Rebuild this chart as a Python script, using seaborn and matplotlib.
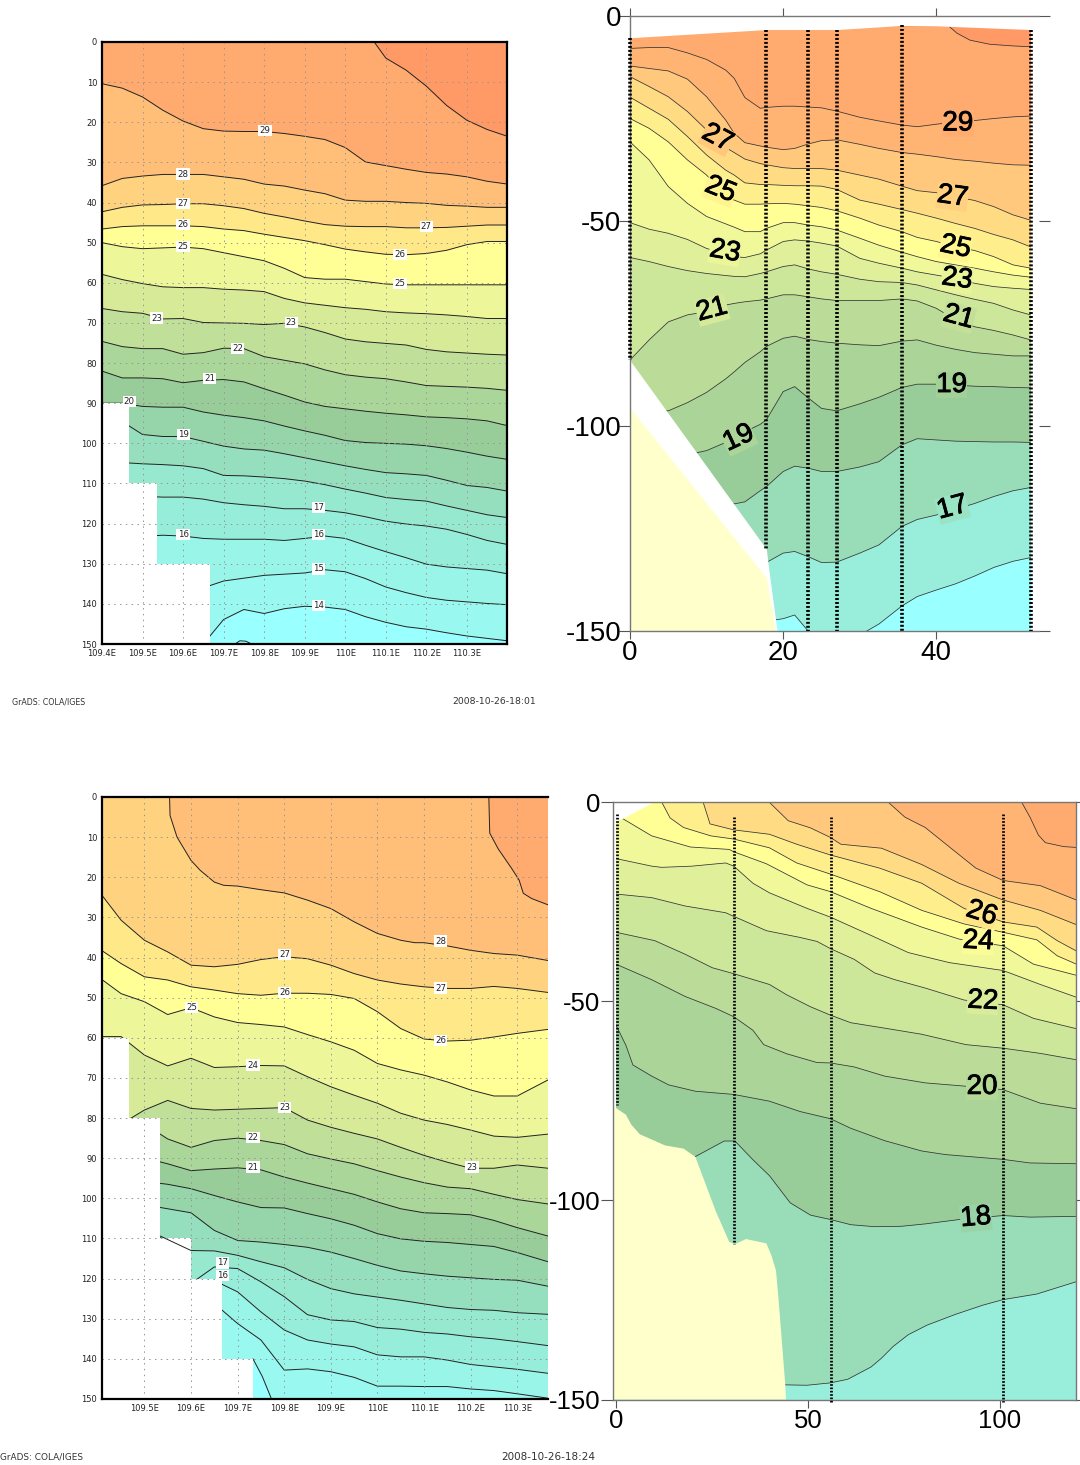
import numpy as np
import matplotlib
matplotlib.use("Agg")
import matplotlib.pyplot as plt
import matplotlib.patheffects as pe
import seaborn as sns

W, H = 1080, 1465

# ---------- panel 1 : longitude / depth section ----------
p1_lon = [109.4,109.45,109.5,109.55,109.6,109.65,109.7,109.75,109.8,109.85,109.9,109.95,110,110.05,110.1,110.15,110.2,110.25,110.3,110.35,110.4]
p1_t30 = [-40,-40,-40,-40,-40,-40,-40,-40,-40,-40,-40,-40,-22,-3,4,7,11,15.8,19.5,21.8,23.5]
p1_t29 = [10.4,11.5,13.7,17,19.7,21.6,22.2,22.3,22.3,22.8,23.5,24.3,26.3,29.9,30.8,31.7,32.5,32.9,33.6,34.7,35.4]
p1_t28 = [35.8,34,33.4,33,33,33,33.6,34.2,35.4,35.9,36.9,37.8,39.4,39.7,39.7,40,40.2,40.7,40.9,41.2,41.2]
p1_t27 = [42.3,41.2,40.6,40.5,40.3,40.3,40.8,41.5,42.7,43.6,44.6,45.5,45.9,46,46,46.3,46.3,46.2,45.9,45.6,45.6]
p1_t26 = [46.6,46,45.8,45.8,45.8,46,46.6,47,47.9,48.7,49.5,50.5,51.6,52.3,52.9,53,52.7,51.9,50.5,49.7,49.7]
p1_t25 = [50,51,51.5,51.3,51.1,51.5,52.5,53.5,54.5,56.4,58.7,59.1,59.1,59.7,60.3,60.5,60.5,60.5,60.5,60.5,60.5]
p1_t24 = [57.9,59.2,60.2,61,61.2,61.2,61.6,61.8,62.2,63.9,65,65.6,66.2,66.6,67.2,67.5,67.7,68,68.4,68.9,68.9]
p1_t23 = [66.4,67.2,67.6,69,68.9,69.9,70,70.1,70.4,70.1,71,72.4,74,74.7,75.1,75.5,76.6,77.2,77.5,77.8,78]
p1_t22 = [74.6,75.9,76.4,76.4,77.8,77.4,76.3,76.4,78.4,79.3,80.2,81.7,82.9,83.5,83.9,84.7,85.6,85.8,86,86.3,86.8]
p1_t21 = [82,83.7,83.7,83.9,84.9,84.3,84.1,84.7,86.4,88,89.7,90.8,91.4,92,92.5,92.9,93.4,93.6,93.9,94.4,95.6]
p1_t20 = [90,90,90.8,91,91,92.2,93,93.6,94.4,95.7,96.9,98,99.3,99.8,100,100.2,100.6,101.3,102.2,103.2,104]
p1_t19 = [94.6,94.6,97.8,98.3,98.3,99.5,100.7,101.4,101.7,102.6,103.6,104.6,105.6,106.5,107.3,107.6,108,109.2,110.5,111,111.9]
p1_t18 = [104.8,104.8,105.1,105.3,105.6,106.3,108,108.1,108.4,108.8,109.4,110.3,111.4,112.4,113.5,114,114.4,115.6,116.7,117.8,118.5]
p1_t17 = [113.2,113.2,113.2,113.4,113.4,113.9,114.8,115.3,115.7,116.3,116.3,116.7,117.3,118.3,119.4,120.1,120.6,121.4,122.7,124.2,125.2]
p1_t16 = [123.2,123.2,123.2,122.9,123.1,123.7,123.9,123.9,123.9,124.2,123.7,123.1,123.7,125.4,127,128.5,130.1,130.8,131.2,131.6,132.5]
p1_t15 = [136,136,136,136,136,136,134.3,133.6,132.9,132.6,132.3,131.5,132,133.7,135.8,137.2,138.4,139.1,139.5,139.9,140.2]
p1_t14 = [150,150,150,150,150,150,143.9,141.4,142.4,141.2,140.6,140.8,141.4,143.2,144.6,145.7,146.3,147.2,148,148.6,149.2]
p1_lobe_lon = [109.728,109.74,109.755,109.769]
p1_lobe_dep = [150,149.2,149.3,150]
p1_mask_dep = [90,110,130,150]
p1_mask_lon = [109.467,109.535,109.666,109.666]
p1_colors = ["#FF9966","#FFAA6E","#FFBF78","#FFD280","#FFE888","#FFFF96","#EEF69A","#D6EA98","#C0E09A","#AAD69A","#98CC98","#96D4AA","#96DFBE","#96E8CE","#96EEDA","#99F5E8","#99F8F0","#99FFFF"]
p1_lab_lon = [109.802,109.6,109.6,109.6,109.6,110.2,110.135,110.135,109.535,109.867,109.734,109.666,109.467,109.6,109.934,109.6,109.934,109.934,109.934]
p1_lab_dep = [22,32.9,40.3,45.4,50.9,46,52.9,60.2,68.8,69.8,76.3,83.9,89.5,97.8,115.9,122.8,122.8,131.3,140.5]
p1_lab_txt = ["29","28","27","26","25","27","26","25","23","23","22","21","20","19","17","16","16","15","14"]
p1_xticks = [109.4,109.5,109.6,109.7,109.8,109.9,110.0,110.1,110.2,110.3]
p1_xlabels = ["109.4E","109.5E","109.6E","109.7E","109.8E","109.9E","110E","110.1E","110.2E","110.3E"]
depth_ticks = [0,10,20,30,40,50,60,70,80,90,100,110,120,130,140,150]

# ---------- panel 2 : distance / depth section ----------
p2_km = [0,2.5,5,7.5,10,12.5,13.6,15,17,17.8,20,21.5,23.3,25,27,30,32.5,35.5,37.5,40,42.5,45,47.5,50,52.3]
p2_t30_km = [41.7,42.7,44.4,47,50,52.3]
p2_t30 = [2.6,4.2,5.9,6.9,7.3,7.5]
p2_t29 = [7.9,7.7,7.7,9,10.6,13.2,15.2,19.9,22.5,22.3,22,22,22.2,22.4,23.2,24.7,25.6,26.6,27,26.4,25.8,25.5,25,24.6,24.4]
p2_t28 = [12.2,12.8,13.4,15.4,19.7,25.4,28.6,30.9,31.7,32,32.6,32.3,31.2,30.4,30.2,31.3,32.3,33.3,33.7,34.3,35,35.4,35.9,36.3,36.4]
p2_t27 = [14.8,17.2,19.7,23.3,27.8,32.1,33.3,34.9,36,36.3,37,37.2,37.2,37.2,37.6,38.8,39.8,41.5,42.6,43.1,44.1,45,46.5,48.5,49.8]
p2_t26 = [19.8,22.5,25.2,29.4,33.9,37.6,38.8,40.7,41.1,41.1,41.3,41.4,41.4,41.5,42.3,44.9,45.9,47.2,48.1,49.3,50.6,51.8,53.3,54.6,56.3]
p2_t25 = [25,27.4,30.7,35.1,38.8,44,44.9,45.9,45.9,45.8,45.7,45.9,46.3,46.7,47.5,49.3,51,52.6,54,55,56.3,57.2,58.7,60.7,61.5]
p2_t24 = [30.7,35.1,41.6,45.7,48.9,50.7,51.5,52.6,52.6,51.8,50.4,50.4,51,51.4,52.2,54.2,55.9,57.6,58.7,59.9,60.7,61.5,62.4,63.2,63.7]
p2_t23 = [50.4,52,53,54.5,56.7,58,58.7,58.9,58,57.1,55,54.6,54.9,55.4,56.1,59.1,60.3,61.5,62.4,63.2,64,65.2,66,66.4,66.7]
p2_t22 = [58.9,59.9,61.1,62.1,62.8,63.3,63.5,63.6,62.8,62.4,61.1,60.7,61.7,62.4,63,64.2,64.8,65,65.6,66.8,68,69.1,70.1,71.7,72.9]
p2_t21 = [83.9,79,74.6,72.9,72.1,70.5,70.1,69.7,69.3,69,68,68,68.5,69,69.4,69.4,69.4,69,69.5,71.3,74.1,75.8,76.7,77.8,79]
p2_t20 = [96,96.3,96.3,94.3,91.8,88.5,86.8,84.5,81.9,80.6,78.6,78.1,78.9,79.4,79.8,80.2,80.4,79.3,79,80.3,81.3,82.1,82.5,82.9,82.9]
p2_t19 = [107,107,107,107,106,104,102.8,101.4,99.6,98.5,91.6,90.4,93.2,95.7,96.3,94.6,93,90.6,89.8,89.8,90,90.3,90.4,90.6,90.7]
p2_t18 = [119,119,119,119,119,119,119,118.5,115.8,114.8,111.1,109.8,110.3,111.1,111.1,110,108.7,104.6,103.1,103.4,103.7,103.8,103.9,103.9,104]
p2_t17 = [133.3,133.3,133.3,133.3,133.3,133.3,133.3,133.3,133.3,133.3,131,130.6,131.9,133.3,133.2,131,129,124.5,122.8,121.7,120.3,118.9,117.2,115.8,115]
p2_t16 = [147.6,147.6,147.6,147.6,147.6,147.6,147.6,147.6,147.6,147.6,147,146.1,150.1,155,155,151,148.3,143.9,141.6,140,138.5,136.6,134.5,133,132.1]
p2_colors = ["#FF9966","#FFAA6E","#FFB474","#FFC87C","#FFDC84","#FFEE8C","#FFFF96","#F0F89A","#E0F09A","#CCE69A","#BADC98","#AAD498","#98CC98","#98DDB8","#98EEDA","#99FFFF"]
p2_surf_km = [0,17.8,27,35.5,40,52.3,53.4]
p2_surf_dep = [5.3,3.3,3.3,2.3,2.4,3.3,3.3]
p2_edge_km = [0,17.8,18.05,19.2]
p2_edge_dep = [84,130,134,150]
p2_land_km = [0,17.8,19]
p2_land_dep = [95.6,137,150]
p2_st_km = [0,17.8,23.3,27,35.5,52.3]
p2_st_top = [5.3,3.3,3.3,3.3,2.3,3.3]
p2_st_bot = [84,130,150,150,150,150]
p2_lab_km = [11.4,11.8,12.4,10.7,42.8,42.1,42.5,42.7,42.9,14.2,42,42.1]
p2_lab_dep = [29.8,42.4,57.5,71.7,26.2,44.1,56.4,64.2,73.5,103,90,120]
p2_lab_txt = ["27","25","23","21","29","27","25","23","21","19","19","17"]
p2_lab_rot = [-28,-22,-10,15,0,-8,-12,-8,-15,25,0,15]
p2_lab_col = ["#FFC87C","#FFF490","#ECF59A","#D4EA9A","#FFAE70","#FFD080","#FFF690","#E8F49A","#C4E098","#AAD498","#A2D096","#98E4C4"]

# ---------- panel 3 : longitude / depth section ----------
p3_lon = [109.409,109.45,109.5,109.55,109.6,109.65,109.7,109.75,109.8,109.85,109.9,109.95,110,110.05,110.1,110.15,110.2,110.25,110.3,110.366]
p3_t29_lon = [110.239,110.241,110.259,110.288,110.304,110.313,110.331,110.369]
p3_t29 = [0,9,12.9,17.8,20.7,24,25.3,27]
p3_t28_lon = [109.554,109.555,109.57,109.6,109.62,109.65,109.67,109.7,109.75,109.8,109.85,109.9,109.95,110,110.05,110.08,110.1,110.15,110.2,110.25,110.3,110.369]
p3_t28 = [0,4.6,10,15.8,18.3,21.2,22,22.2,23.1,23.9,25.7,27.8,31.1,34,35.7,36.3,36.3,37.1,38.2,39,39.4,40.8]
p3_t27 = [24.5,30.7,35.7,38.6,41.9,42.3,41.7,40.5,39.8,40.3,41.9,44,45.6,46.6,47.3,47.7,47.7,47.2,47.7,48.7]
p3_t26 = [38.3,41.5,44.8,45.6,47.3,48.1,49,49.4,48.9,48.9,49.2,50.2,53.5,57.7,60.3,60.8,60.6,59.8,58.9,57.9]
p3_t25 = [45.5,49,51,54.2,52.5,54.8,56.2,56.7,57.3,59.2,61,63.1,66.4,68,69.3,71,73,74.5,74.5,70.5]
p3_t24 = [59.7,59.7,64.3,67,65.1,67.4,67.2,66.9,67,69.7,72.2,74.3,76.3,78.8,80.5,81.6,83,84.5,84.8,84]
p3_t23 = [81.5,81.5,78,75.6,77.6,78,77.8,77.6,77.4,80.5,82.3,83.8,85.2,87.3,89.3,91,92.5,92.5,91.7,92.5]
p3_t22 = [81.5,81.5,81.5,85.2,87.3,85.6,85,85.6,86.6,88.9,90.2,91.4,93.1,94.7,96.1,97.2,97.6,99,100.3,101.4]
p3_t21 = [89.9,89.9,89.9,91.4,93.1,92.7,92.4,92.9,94.7,96.2,97.6,99,100.9,102.6,103.6,103.8,104.1,105.5,107.3,109.4]
p3_t20 = [95.8,95.8,95.8,96.5,97.6,99.3,100.9,102.3,102.4,103.8,105.1,106.7,108.8,110.1,110.7,111,111.5,112,113.5,115.8]
p3_t19 = [101.6,101.6,101.6,102.6,103.6,108,110.5,110.9,111.5,112.2,113.4,115,116.7,118.1,118.8,119.4,119.8,120.2,120.4,121.9]
p3_t18 = [108.8,108.8,108.8,110.3,113,113.1,114.2,115.8,117.3,120.2,122.5,123.8,124.6,125.4,126.3,127.2,127.7,127.9,128.5,128.9]
p3_t17 = [121.2,121.2,121.2,121.2,121.2,117.1,117.5,120.8,124.5,129,130.3,130.7,132.2,132.6,133.4,133.8,134.5,135,135.7,136.7]
p3_t16 = [124,124,124,124,124,120.5,123.3,128.3,132.8,135.3,136.3,137,139,139.5,139.5,140.3,141.4,142,142.6,143.6]
p3_t15 = [128,128,128,128,128,126.2,131.2,135.3,142.8,142.5,143.2,144.6,146.8,146.8,146.9,146.9,147.5,147.9,148.7,149.8]
p3_t14_lon = [109.733,109.753,109.772,109.78]
p3_t14 = [140,144.4,149.8,160]
p3_ledge_lon = [109.534,109.567,109.6]
p3_ledge_dep = [109.4,111.2,113]
p3_colors = ["#FFAA6E","#FFBF78","#FFD280","#FFE888","#FFFF96","#EEF69A","#D6EA98","#C0E09A","#AAD69A","#98CC98","#96D4AA","#96DFBE","#96E8CE","#96EEDA","#99F5E8","#99F8F0","#99FFFF"]
p3_mask_dep = [60,80,110,120,140,150]
p3_mask_lon = [109.467,109.534,109.6,109.666,109.733,109.733]
p3_lab_lon = [109.801,110.136,109.801,110.136,110.136,109.601,109.733,109.801,109.733,109.733,110.203,109.668,109.668]
p3_lab_dep = [39.2,35.9,48.7,47.6,60.6,52.5,66.8,77.4,84.8,92.2,92.2,116.1,119.2]
p3_lab_txt = ["27","28","26","27","26","25","24","23","22","21","23","17","16"]
p3_xticks = [109.5,109.6,109.7,109.8,109.9,110.0,110.1,110.2,110.3]
p3_xlabels = ["109.5E","109.6E","109.7E","109.8E","109.9E","110E","110.1E","110.2E","110.3E"]

# ---------- panel 4 : distance / depth section ----------
p4_t29_km = [105.7,107.9,110.1,111.9,116.7,120]
p4_t29 = [0,3.8,8.3,10.2,11.2,11.4]
p4_t28_km = [70.9,75.3,80.6,87.7,93.8,100.9,110.6,120]
p4_t28 = [0,3.8,6.4,11.9,16.6,19.7,21,24.6]
p4_t27_km = [39.9,44.9,50.7,55.9,58.6,69.2,79.7,89.4,100.9,110.6,120]
p4_t27 = [0,4.7,6.5,8.9,10.6,11.6,15.7,20.4,24.6,27.2,30.8]
p4_t26_km = [22.7,24.5,30.7,40,47.1,55.9,68.7,79.7,90.7,100.9,109.7,115,120]
p4_t26 = [0,5.5,7,8.1,10.6,13.3,16.6,20.4,26.7,30.1,31.4,34.8,37.4]
p4_t25_km = [11.9,14.1,17.6,24.7,30.7,40,47.1,55.9,68.7,79.7,90.7,100.9,109.7,115,120]
p4_t25 = [0,4,6.4,8.5,9.3,11.5,15.3,18.1,22.5,27.2,30.6,32.7,34.6,38.6,40.7]
p4_t24_km = [1.8,9.3,19.4,29.5,30.7,39.2,49.8,55.9,66.5,79.7,89.4,100.9,108.8,120]
p4_t24 = [4.2,8.5,11.3,11.9,12.5,15.5,20.8,22.5,26.7,31.4,34.4,36.1,40.7,43.5]
p4_t23_km = [0,9.3,11.9,19.8,28.6,30.7,35.7,40,49.8,55.9,66.5,76.2,86.8,100.9,110.6,120]
p4_t23 = [14.2,16.1,16.4,16.1,15.3,16.1,20.4,22.8,26.7,28.9,33.5,37.8,40.3,42.3,45.8,49]
p4_t22_km = [0,9.3,18,28.6,30.7,39.2,48,52.4,55.9,62.1,67.4,72.7,80.6,90.7,100.9,108.8,120]
p4_t22 = [23.1,24,26.1,27.8,28.7,32.3,34,35,36.8,39.5,42.9,44.6,46.7,49.7,50.9,54.3,56.9]
p4_t21_km = [0,10.1,18,25.1,30.7,40,44.5,50.7,55.9,61.2,70.9,79.7,91.2,100.9,110.6,120]
p4_t21 = [32.7,34.8,38.2,41.6,43.1,45.8,48.4,51.4,53.5,55.4,56.9,58.3,60.9,61.8,63.1,64.7]
p4_t20_km = [0,9.3,18,26,30.7,35.7,38.5,44.5,52.4,55.9,62.1,70,80.6,90.7,100.9,110.6,120]
p4_t20 = [40.7,44.6,48.8,51.8,53.9,57.3,60.9,63.2,65.4,65.5,66.5,68.8,70.5,71.3,72.2,75.6,77]
p4_t19_km = [0,2.6,4.4,9.3,13.7,20.7,30.7,40,48,55.9,61.2,70,79.7,85.9,100.9,107.9,120]
p4_t19 = [56,61.1,66,68.8,71,72.6,73.4,75.1,77.7,79.5,81.9,85,87.6,88.5,89.7,90.6,90.8]
p4_t18_km = [20.7,28.2,31,35.7,40,45.4,50.7,55.9,61.2,67.4,74.4,80.6,90.3,100.9,107.9,120]
p4_t18 = [89,85.1,85.1,89.8,93.8,100.6,103.7,104.8,106.1,106.6,106.5,105.9,104.7,103.8,104.2,104]
p4_t17_km = [44.1,49.8,55.9,60.4,66.5,69.2,72.2,76.2,81.1,88.5,95.6,100.9,109.7,120]
p4_t17 = [146.3,146.4,145.8,144.9,141.8,139.6,136.7,133.7,131.3,128.6,126.3,124.9,123.5,120.4]
p4_colors = ["#FFAA6E","#FFB474","#FFC87C","#FFDC84","#FFEE8C","#FFFF96","#F0F89A","#E0F09A","#CCE69A","#BADC98","#AAD498","#98CC98","#98DDB8","#98EEDA"]
p4_void_km = [-0.91,10.1,1.8,0.0,0.0,-0.91]
p4_void_dep = [0,0,4.2,5,77,77]
p4_land_km = [-0.91,0,2.6,4,6.2,12.8,17.6,20.7,26,29.5,31,33.9,39.2,40.5,41.7,42.3,44.1,44.3,-0.91]
p4_land_dep = [76.8,76.8,78.5,81,83.4,86.2,87,89.1,102.7,110.4,111,109.7,110.8,113.8,117.6,124,146,150,150]
p4_st_km = [0.2,30.7,56,101]
p4_st_top = [3,3.8,3.8,3]
p4_st_bot = [76,111,150.5,150.5]
p4_lab_km = [95.3,94.4,95.6,95.4,93.8]
p4_lab_dep = [28,35,50,71.5,104.4]
p4_lab_txt = ["26","24","22","20","18"]
p4_lab_rot = [-18,-3,-3,0,5]
p4_lab_col = ["#FFE488","#FBFC98","#D8EC9A","#B4D898","#98D4A8"]

sns.set_theme(style="white", rc={"axes.grid": False})
plt.rcParams["font.family"] = ["Liberation Sans", "DejaVu Sans"]
fig = plt.figure(figsize=(W / 100, H / 100), dpi=100, facecolor="white")


def make_axes(l, r, t, b, xlim):
    ax = fig.add_axes([l / W, 1 - b / H, (r - l) / W, (b - t) / H])
    ax.set_xlim(*xlim)
    ax.set_ylim(150, 0)
    ax.set_autoscale_on(False)
    ax.set_facecolor("white")
    return ax


def draw_bands(ax, base, lines, colors, lw, lc):
    x0, x1 = ax.get_xlim()
    ax.fill([x0, x1, x1, x0], [0, 0, 150, 150], color=base, lw=0, zorder=1)
    for (x, d), col in zip(lines, colors):
        ax.fill([x0, *x, x1, x1, x0], [d[0], *d, d[-1], 300, 300], color=col, lw=0, zorder=1)
    for x, d in lines:
        sns.lineplot(x=list(x), y=list(d), ax=ax, color=lc, linewidth=lw, estimator=None,
                     sort=False, errorbar=None, legend=False, zorder=1.5)


def grads_style(ax, xticks, xlabels, right=True):
    ax.set_xticks(xticks)
    ax.set_xticklabels(xlabels)
    ax.set_yticks(depth_ticks)
    ax.set_yticklabels([str(v) for v in depth_ticks])
    ax.tick_params(length=0, labelsize=6, colors="#222222")
    ax.tick_params(axis="x", pad=3.5)
    ax.tick_params(axis="y", pad=3.5)
    for lab in ax.get_xticklabels() + ax.get_yticklabels():
        lab.set_family("DejaVu Sans")
    ax.set_axisbelow(False)
    ax.grid(True, color="#959595", lw=0.7, ls=(0, (1.5, 4.5)))
    for side, s in ax.spines.items():
        s.set_color("black")
        s.set_linewidth(1.6)
        s.set_zorder(6)
        s.set_visible(True)
    if not right:
        ax.spines["right"].set_visible(False)


def small_labels(ax, xs, ds, txts):
    for x, d, t in zip(xs, ds, txts):
        ax.text(x, d, t, fontsize=6.2, family="DejaVu Sans", ha="center", va="center", color="#222222",
                zorder=5, bbox=dict(facecolor="white", edgecolor="none", pad=0.8))


def big_labels(ax, xs, ds, txts, rots, cols):
    for x, d, t, r, c in zip(xs, ds, txts, rots, cols):
        ax.text(x, d, t, fontsize=20, ha="center", va="center", rotation=r, color="black",
                rotation_mode="anchor", zorder=5, bbox=dict(facecolor=c, edgecolor="none", pad=0.2),
                path_effects=[pe.withStroke(linewidth=0.6, foreground="black")])


def thin_style(ax, xticks, xlabels, yticks, ylabels, fs, xpad, ypad):
    ax.set_xticks(xticks)
    ax.set_xticklabels(xlabels)
    ax.set_yticks(yticks)
    ax.set_yticklabels(ylabels)
    ax.grid(False)
    ax.tick_params(axis="both", labelsize=fs, colors="black", color="#555555", width=0.8)
    ax.tick_params(axis="x", bottom=True, length=6, pad=xpad)
    ax.tick_params(axis="y", left=True, length=8, pad=ypad)
    for s in ax.spines.values():
        s.set_color("#777777")
        s.set_linewidth(1.0)
        s.set_zorder(6)
        s.set_visible(True)


# panel 1
ax1 = make_axes(102, 507, 42, 644, (109.4, 110.399))
lines1 = [(p1_lon, t) for t in (p1_t30, p1_t29, p1_t28, p1_t27, p1_t26, p1_t25, p1_t24, p1_t23, p1_t22,
                                p1_t21, p1_t20, p1_t19, p1_t18, p1_t17, p1_t16, p1_t15, p1_t14)]
draw_bands(ax1, p1_colors[0], lines1, p1_colors[1:], 0.7, "#222222")
sns.lineplot(x=p1_lobe_lon, y=p1_lobe_dep, ax=ax1, color="#222222", linewidth=0.7, estimator=None, sort=False, errorbar=None, zorder=1.5)
ax1.fill_betweenx(p1_mask_dep, 109.4, p1_mask_lon, step="post", color="white", lw=0, zorder=1.8)
grads_style(ax1, p1_xticks, p1_xlabels)
small_labels(ax1, p1_lab_lon, p1_lab_dep, p1_lab_txt)

# panel 2
ax2 = make_axes(630, 1039, 16, 631, (0, 53.4))
lines2 = [(p2_t30_km, p2_t30)] + [(p2_km, t) for t in (p2_t29, p2_t28, p2_t27, p2_t26, p2_t25, p2_t24, p2_t23,
                                                       p2_t22, p2_t21, p2_t20, p2_t19, p2_t18, p2_t17, p2_t16)]
draw_bands(ax2, p2_colors[0], lines2, p2_colors[1:], 0.55, "#333333")
ax2.fill_between(p2_surf_km, 0, p2_surf_dep, color="white", lw=0, zorder=1.8)
ax2.fill_between([52.3, 53.4], 0, 150, color="white", lw=0, zorder=1.8)
ax2.fill_betweenx(p2_edge_dep, 0, p2_edge_km, color="white", lw=0, zorder=1.8)
ax2.fill_betweenx(p2_land_dep, 0, p2_land_km, color="#FFFFCC", lw=0, zorder=1.9)
ax2.vlines(p2_st_km, p2_st_top, p2_st_bot, colors="black", lw=2.6, linestyles=(0, (0.55, 0.55)), zorder=7, clip_on=False)
thin_style(ax2, [0, 20, 40], ["0", "20", "40"], [0, 50, 100, 150], ["0", "-50", "-100", "-150"], 20, 0.4, -1.6)
ax2.spines["right"].set_visible(False)
ax2.tick_params(axis="x", top=True, labeltop=False)
ax2.tick_params(axis="y", right=True, labelright=False)
big_labels(ax2, p2_lab_km, p2_lab_dep, p2_lab_txt, p2_lab_rot, p2_lab_col)

# panel 3
ax3 = make_axes(102, 548, 797, 1399, (109.409, 110.366))
lines3 = [(p3_t29_lon, p3_t29), (p3_t28_lon, p3_t28)] + [(p3_lon, t) for t in (p3_t27, p3_t26, p3_t25, p3_t24, p3_t23, p3_t22,
                                                                                p3_t21, p3_t20, p3_t19, p3_t18, p3_t17, p3_t16, p3_t15)] + [(p3_t14_lon, p3_t14)]
draw_bands(ax3, p3_colors[0], lines3, p3_colors[1:], 0.7, "#222222")
ax3.fill_betweenx(p3_mask_dep, 109.409, p3_mask_lon, step="post", color="white", lw=0, zorder=1.8)
sns.lineplot(x=p3_ledge_lon, y=p3_ledge_dep, ax=ax3, color="#222222", linewidth=0.7, estimator=None, sort=False, errorbar=None, zorder=2)
grads_style(ax3, p3_xticks, p3_xlabels, right=False)
small_labels(ax3, p3_lab_lon, p3_lab_dep, p3_lab_txt)

# panel 4
ax4 = make_axes(612.5, 1076, 802, 1399.6, (-0.91, 119.9))
lines4 = [(p4_t29_km, p4_t29), (p4_t28_km, p4_t28), (p4_t27_km, p4_t27), (p4_t26_km, p4_t26), (p4_t25_km, p4_t25),
          (p4_t24_km, p4_t24), (p4_t23_km, p4_t23), (p4_t22_km, p4_t22), (p4_t21_km, p4_t21), (p4_t20_km, p4_t20),
          (p4_t19_km, p4_t19), (p4_t18_km, p4_t18), (p4_t17_km, p4_t17)]
draw_bands(ax4, p4_colors[0], lines4, p4_colors[1:], 0.55, "#333333")
ax4.fill(p4_void_km, p4_void_dep, color="white", lw=0, zorder=1.8)
ax4.fill(p4_land_km, p4_land_dep, color="#FFFFCC", lw=0, zorder=1.9)
ax4.vlines(p4_st_km, p4_st_top, p4_st_bot, colors="black", lw=2.0, linestyles=(0, (0.6, 0.6)), zorder=7, clip_on=False)
thin_style(ax4, [0, 50, 100], ["0", "50", "100"], [0, 50, 100, 150], ["0", "-50", "-100", "-150"], 18.5, 1.1, 0)
ax4.tick_params(axis="y", right=True, labelright=False, length=9)
big_labels(ax4, p4_lab_km, p4_lab_dep, p4_lab_txt, p4_lab_rot, p4_lab_col)

# footers
for x, y, s, ha, fs in [(12, 702, "GrADS: COLA/IGES", "left", 5.7), (536, 702, "2008-10-26-18:01", "right", 6.7),
                        (0, 1457, "GrADS: COLA/IGES", "left", 6.4), (595, 1457, "2008-10-26-18:24", "right", 7.5)]:
    fig.text(x / W, 1 - y / H, s, fontsize=fs, family="DejaVu Sans", ha=ha, va="center", color="#333333")

fig.savefig("out.png", dpi=100, facecolor="white")
